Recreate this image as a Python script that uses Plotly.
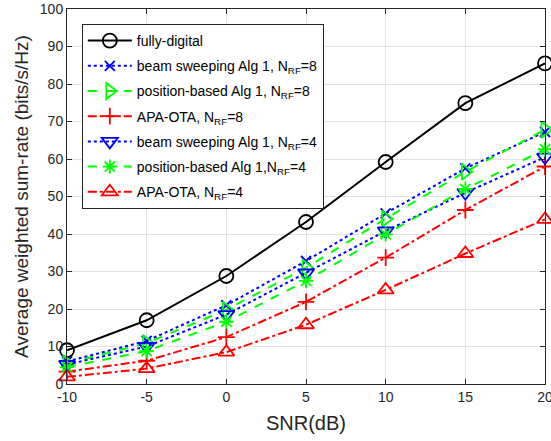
import plotly.graph_objects as go

snr = [-10, -5, 0, 5, 10, 15, 20]
fully_digital = [9.0, 17.0, 28.8, 43.2, 59.2, 74.9, 85.5]
bs_nrf8 = [6.0, 11.5, 21.0, 32.8, 45.5, 57.5, 67.2]
pb_nrf8 = [5.5, 10.9, 19.8, 31.0, 44.1, 56.6, 67.8]
apa_nrf8 = [3.3, 6.2, 12.5, 21.9, 33.7, 46.4, 58.0]
bs_nrf4 = [5.2, 10.0, 18.5, 29.6, 40.8, 51.0, 60.5]
pb_nrf4 = [4.5, 8.8, 16.6, 27.5, 39.9, 52.0, 62.6]
apa_nrf4 = [1.9, 4.1, 8.5, 15.8, 25.1, 34.8, 43.9]

x_ticks = [-10, -5, 0, 5, 10, 15, 20]
x_tick_labels = ["-10", "-5", "0", "5", "10", "15", "20"]
y_ticks = [0, 10, 20, 30, 40, 50, 60, 70, 80, 90, 100]
y_tick_labels = ["0", "10", "20", "30", "40", "50", "60", "70", "80", "90", "100"]

series = [
    ("fully-digital", fully_digital, "black", "solid", "circle-open", 14),
    ("beam sweeping Alg 1, N<sub>RF</sub>=8", bs_nrf8, "#0000ff", "dot", "x-thin-open", 10),
    ("position-based Alg 1, N<sub>RF</sub>=8", pb_nrf8, "#00ff00", "dash", "triangle-right-open", 14),
    ("APA-OTA, N<sub>RF</sub>=8", apa_nrf8, "#ff0000", "dashdot", "cross-thin-open", 12),
    ("beam sweeping Alg 1, N<sub>RF</sub>=4", bs_nrf4, "#0000ff", "dot", "triangle-down-open", 14),
    ("position-based Alg 1,N<sub>RF</sub>=4", pb_nrf4, "#00ff00", "dash", "asterisk-open", 12),
    ("APA-OTA, N<sub>RF</sub>=4", apa_nrf4, "#ff0000", "dashdot", "triangle-up-open", 14),
]

fig = go.Figure()
for i, (name, vals, color, dash, sym, size) in enumerate(series):
    fig.add_trace(go.Scatter(
        x=snr, y=vals, name=name, mode="lines+markers",
        legendgroup="g%d" % i,
        line=dict(color=color, dash=dash, width=2),
        marker=dict(symbol=sym, size=size, color=color,
                    line=dict(color=color, width=1.8)),
        cliponaxis=False,
    ))

FONT = "Liberation Sans, Arial, sans-serif"
axis_common = dict(
    showline=True, linecolor="#262626", linewidth=1, mirror="ticks",
    ticks="inside", ticklen=5, tickcolor="#262626",
    showgrid=True, gridcolor="#e3e3e3", gridwidth=1,
    zeroline=False, ticklabeloverflow="allow", automargin=False,
    tickfont=dict(family=FONT, size=14, color="#262626"),
)

fig.update_layout(
    width=551, height=441,
    margin=dict(l=67, r=6, t=9, b=57),
    paper_bgcolor="white", plot_bgcolor="white",
    font=dict(family=FONT, color="#262626"),
    xaxis=dict(range=[-10, 20], tickvals=x_ticks, ticktext=x_tick_labels,
               title=dict(text="SNR(dB)", font=dict(size=20, color="#262626"), standoff=12),
               **axis_common),
    yaxis=dict(range=[0, 100], tickvals=y_ticks, ticktext=y_tick_labels,
               title=dict(text="Average weighted sum-rate (bits/s/Hz)",
                          font=dict(size=19, color="#262626"), standoff=6),
               **axis_common),
    legend=dict(x=0.031, y=0.96, xanchor="left", yanchor="top",
                bgcolor="white", bordercolor="#262626", borderwidth=1,
                font=dict(size=14, color="black", family=FONT),
                itemwidth=44, tracegroupgap=4),
    showlegend=True,
)

fig.write_html("out.html", config={"displayModeBar": False},
               post_script="document.body.style.margin='0';document.body.style.overflow='hidden';")
